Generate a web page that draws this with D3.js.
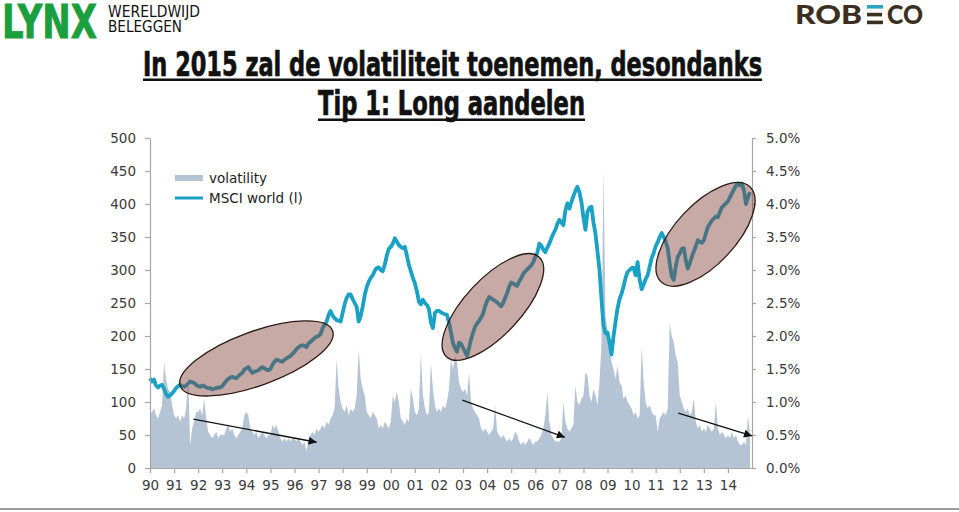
<!DOCTYPE html>
<html><head><meta charset="utf-8">
<script src="https://cdn.jsdelivr.net/npm/d3@7/dist/d3.min.js"></script>
<style>
html,body{margin:0;padding:0;background:#fff;}
svg{display:block;}
</style></head><body>
<svg id="chart" width="959" height="512"></svg>
<script>
// ---------------- DATA ----------------
const years = d3.range(1990, 2015);
const yearLabels = years.map(y => String(y).slice(2));
const leftTicks = [0, 50, 100, 150, 200, 250, 300, 350, 400, 450, 500];
const rightTicks = [0, 0.5, 1, 1.5, 2, 2.5, 3, 3.5, 4, 4.5, 5];

// MSCI World index, monthly Jan 1990 .. Dec 2014 (left axis)
const msciWorld = [
  136,131,134,125,122,125,126,120,112,108,110,113, // 1990
  117,121,124,126,124,123,125,128,131,130,129,126, // 1991
  124,123,125,124,122,121,121,119,120,121,122,122, // 1992
  124,128,132,135,137,138,137,136,139,142,144,149, // 1993
  151,153,148,144,146,147,148,151,153,151,149,148, // 1994
  150,156,161,164,163,162,161,164,166,168,170,173, // 1995
  176,180,183,185,186,185,183,189,191,194,197,199, // 1996
  200,203,212,217,222,232,238,231,227,224,223,222, // 1997
  235,248,258,263,263,256,250,244,222,230,245,262, // 1998
  274,282,288,292,299,303,304,300,298,308,322,332, // 1999
  335,340,348,343,338,335,333,335,322,308,298,288, // 2000
  280,268,252,248,255,250,247,241,220,212,235,238, // 2001
  238,236,234,233,232,220,205,189,182,176,190,188, // 2002
  182,176,170,182,195,205,214,219,223,228,234,245, // 2003
  253,259,257,255,253,251,248,245,250,258,265,275, // 2004
  281,280,277,276,283,288,294,298,301,304,307,312, // 2005
  320,326,340,337,331,327,334,340,348,355,361,370, // 2006
  376,372,368,390,401,393,403,412,420,426,418,403, // 2007
  380,361,388,394,396,372,355,328,300,256,215,204, // 2008
  205,190,172,200,222,242,256,264,275,288,297,300, // 2009
  303,303,292,312,285,271,278,286,292,305,318,326, // 2010
  336,342,350,356,350,343,333,310,290,285,305,320, // 2011
  325,332,333,315,302,310,320,328,336,345,343,341, // 2012
  345,355,365,370,375,378,381,380,388,395,398,401, // 2013
  404,410,416,422,428,431,428,431,420,400,410,418  // 2014
];

// Volatility in %, monthly Jan 1990 .. Dec 2014 (right axis)
const volatility = [
  0.8,0.85,0.9,0.8,0.75,0.85,0.95,1.6,1.35,1.2,1.15,0.95, // 1990
  0.8,0.75,0.8,0.7,0.8,0.75,0.9,1.4,0.35,0.6,0.7,0.85,    // 1991
  0.85,0.9,0.8,1.05,0.75,0.55,0.5,0.45,0.5,0.55,0.45,0.5, // 1992
  0.5,0.5,0.6,0.65,0.55,0.6,0.5,0.45,0.5,0.55,0.6,0.8,    // 1993
  0.85,0.8,0.6,0.55,0.5,0.55,0.45,0.5,0.55,0.5,0.45,0.5,  // 1994
  0.5,0.65,0.6,0.65,0.55,0.45,0.4,0.45,0.4,0.45,0.4,0.45, // 1995
  0.45,0.4,0.45,0.4,0.35,0.4,0.25,0.45,0.5,0.55,0.5,0.6,  // 1996
  0.55,0.6,0.65,0.6,0.7,0.65,0.75,0.8,0.9,1.65,1.2,1.0,   // 1997
  0.9,0.85,0.95,0.8,0.9,0.85,0.9,1.1,1.8,1.35,1.2,1.1,    // 1998
  0.85,0.8,0.75,0.85,0.8,0.75,0.6,0.65,0.6,0.7,0.65,0.6,  // 1999
  0.7,1.1,1.0,1.15,1.0,0.75,0.7,0.65,0.75,0.7,1.2,1.05,   // 2000
  0.85,0.8,0.9,1.75,1.1,0.9,0.8,0.85,1.6,1.2,0.95,0.85,   // 2001
  0.9,0.85,0.95,0.9,1.0,1.2,1.65,1.5,1.7,1.6,1.3,1.2,     // 2002
  1.15,1.2,1.1,1.45,1.0,0.9,0.85,0.8,0.75,0.6,0.55,0.6,   // 2003
  0.55,0.5,0.55,0.6,0.95,0.55,0.5,0.45,0.5,0.45,0.4,0.45, // 2004
  0.4,0.45,0.55,0.5,0.4,0.35,0.4,0.35,0.4,0.45,0.4,0.35,  // 2005
  0.4,0.4,0.45,0.5,0.6,0.8,1.15,0.7,0.5,0.45,0.4,0.4,     // 2006
  0.4,0.45,1.0,0.7,0.6,0.55,0.6,0.65,1.25,1.0,0.95,1.05,  // 2007
  1.1,1.45,1.4,1.1,1.0,1.2,1.1,0.95,1.3,1.9,4.5,2.3,      // 2008
  2.1,1.9,1.6,1.5,1.35,1.55,1.3,1.25,1.05,1.1,1.0,0.95,   // 2009
  0.9,0.8,0.85,0.75,0.8,1.85,1.3,1.0,0.9,0.95,0.85,0.8,   // 2010
  0.8,0.55,0.75,0.8,0.85,0.8,0.9,2.2,2.0,1.9,1.7,1.6,     // 2011
  1.1,1.0,0.9,0.85,0.9,0.8,0.85,1.05,0.7,0.6,0.65,0.55,   // 2012
  0.6,0.55,0.65,0.6,0.55,0.6,1.0,0.6,0.5,0.55,0.5,0.45,   // 2013
  0.5,0.45,0.55,0.45,0.5,0.4,0.35,0.35,0.4,0.35,0.8,0.5   // 2014
];

// Annotations (data units): highlighted bull periods [year, index level]
const highlightCenters = [[1994.42, 166], [2004.24, 244], [2013.07, 354]];
// Volatility trend arrows [fromYear, fromVol%, toYear, toVol%]
const volTrendArrows = [[1991.8, 0.74, 1996.92, 0.39], [2002.97, 1.03, 2007.23, 0.465], [2011.94, 0.83, 2015.0, 0.485]];

const seriesNames = ["volatility", "MSCI world (l)"];
const titleLines = ["In 2015 zal de volatiliteit toenemen, desondanks", "Tip 1: Long aandelen"];

// ---------------- STYLE ----------------
const ellipseShapes = [{rx: 81, ry: 27, rot: -20}, {rx: 68, ry: 28, rot: -47}, {rx: 65, ry: 30, rot: -47}];
const C = {vol: "#b4c4d4", msci: "#1ba1c4", axis: "#a6a6a6", label: "#3a3a3a"};
const axisFont = "'DejaVu Sans', Verdana, sans-serif";
const condFont = "'Liberation Sans Narrow', 'DejaVu Sans Condensed', 'Arial Narrow', sans-serif";

// ---------------- DRAW ----------------
const svg = d3.select("#chart");
const x = d3.scaleLinear().domain([1990, 2015]).range([150, 752]);
const yL = d3.scaleLinear().domain([0, 500]).range([468, 138]);
const yR = d3.scaleLinear().domain([0, 5]).range([468, 138]);
const tOf = i => 1990 + i / 12;

const defs = svg.append("defs");
defs.append("marker").attr("id", "ah").attr("viewBox", "0 0 10 10")
  .attr("refX", 10).attr("refY", 5).attr("markerWidth", 11).attr("markerHeight", 8)
  .attr("markerUnits", "userSpaceOnUse").attr("orient", "auto")
  .append("path").attr("d", "M0,0L10,5L0,10z").attr("fill", "#111");

// volatility area
svg.append("path").datum(volatility)
  .attr("fill", C.vol)
  .attr("d", d3.area().x((d, i) => x(tOf(i))).y0(yR(0)).y1(d => yR(d)));

// MSCI line
svg.append("path").datum(msciWorld)
  .attr("fill", "none").attr("stroke", C.msci).attr("stroke-width", 3.8)
  .attr("stroke-linejoin", "round")
  .attr("d", d3.line().x((d, i) => x(tOf(i))).y(d => yL(d)));

// axes
function styleAxis(g) {
  g.selectAll(".domain").attr("stroke", C.axis).attr("stroke-width", 1.2);
  g.selectAll(".tick line").attr("stroke", C.axis).attr("stroke-width", 1.2);
  g.selectAll(".tick text").attr("fill", C.label).style("font-family", axisFont).style("font-size", "13.5px");
}
svg.append("g").attr("transform", "translate(150,0)")
  .call(d3.axisLeft(yL).tickValues(leftTicks).tickSize(5).tickSizeOuter(0).tickPadding(9))
  .call(styleAxis);
svg.append("g").attr("transform", "translate(752,0)")
  .call(d3.axisRight(yR).tickValues(rightTicks).tickFormat(d => d.toFixed(1) + "%").tickSize(4).tickSizeOuter(0).tickPadding(10))
  .call(styleAxis);
svg.append("g").attr("transform", "translate(0,468)")
  .call(d3.axisBottom(x).tickValues(years).tickFormat((d, i) => yearLabels[i]).tickSize(5).tickSizeOuter(0).tickPadding(7))
  .call(styleAxis);

// highlight ellipses
svg.append("g").selectAll("ellipse").data(highlightCenters).join("ellipse")
  .attr("transform", (d, i) => `translate(${x(d[0])},${yL(d[1])}) rotate(${ellipseShapes[i].rot})`)
  .attr("rx", (d, i) => ellipseShapes[i].rx).attr("ry", (d, i) => ellipseShapes[i].ry)
  .attr("fill", "rgba(130,65,55,0.45)").attr("stroke", "#2a1a12").attr("stroke-width", 1.3);

// arrows
svg.append("g").selectAll("line").data(volTrendArrows).join("line")
  .attr("x1", d => x(d[0])).attr("y1", d => yR(d[1]))
  .attr("x2", d => x(d[2])).attr("y2", d => yR(d[3]))
  .attr("stroke", "#111").attr("stroke-width", 1.3).attr("marker-end", "url(#ah)");

// legend
const lg = svg.append("g").style("font-family", axisFont).style("font-size", "13.5px").attr("fill", "#222");
lg.append("rect").attr("x", 175).attr("y", 175).attr("width", 28).attr("height", 6).attr("fill", C.vol);
lg.append("text").attr("x", 209).attr("y", 183).text(seriesNames[0]);
lg.append("line").attr("x1", 175).attr("x2", 203).attr("y1", 198).attr("y2", 198).attr("stroke", C.msci).attr("stroke-width", 3);
lg.append("text").attr("x", 209).attr("y", 203).text(seriesNames[1]);

// title
const tt = svg.append("g").style("font-family", condFont).style("font-weight", "bold")
  .attr("fill", "#111").attr("stroke", "#111").attr("stroke-width", 0.7);
tt.append("text").attr("x", 143).attr("y", 76).style("font-size", "33px")
  .attr("textLength", 619).attr("lengthAdjust", "spacingAndGlyphs").text(titleLines[0]);
tt.append("rect").attr("x", 143).attr("y", 78.5).attr("width", 619).attr("height", 2.5).attr("stroke", "none");
tt.append("text").attr("x", 318).attr("y", 115).style("font-size", "33px")
  .attr("textLength", 267).attr("lengthAdjust", "spacingAndGlyphs").text(titleLines[1]);
tt.append("rect").attr("x", 318).attr("y", 118.5).attr("width", 267).attr("height", 2.5).attr("stroke", "none");

// logos
const logo = svg.append("g").style("font-family", condFont);
logo.append("text").attr("x", 2).attr("y", 38).style("font-size", "46px").style("font-weight", "bold")
  .attr("fill", "#1b9e3e").attr("stroke", "#1b9e3e").attr("stroke-width", 0.8)
  .attr("textLength", 95).attr("lengthAdjust", "spacingAndGlyphs").text("LYNX");
logo.append("text").attr("x", 108).attr("y", 17).style("font-size", "16px")
  .attr("fill", "#111").attr("textLength", 92).attr("lengthAdjust", "spacingAndGlyphs").text("WERELDWIJD");
logo.append("text").attr("x", 108).attr("y", 32).style("font-size", "16px")
  .attr("fill", "#111").attr("textLength", 74).attr("lengthAdjust", "spacingAndGlyphs").text("BELEGGEN");

const rb = svg.append("g").style("font-family", "Lato, 'Open Sans', sans-serif").style("font-weight", "900").attr("fill", "#3b2f22");
rb.append("text").attr("x", 795).attr("y", 24).style("font-size", "26px")
  .attr("textLength", 67).attr("lengthAdjust", "spacingAndGlyphs").text("ROB");
rb.append("rect").attr("x", 867).attr("y", 5).attr("width", 16).attr("height", 3.6).attr("fill", "#2aa6c0");
rb.append("rect").attr("x", 867).attr("y", 12.8).attr("width", 15).attr("height", 3.6);
rb.append("rect").attr("x", 867).attr("y", 20.6).attr("width", 16).attr("height", 3.6);
rb.append("text").attr("x", 887).attr("y", 24).style("font-size", "26px")
  .attr("textLength", 36).attr("lengthAdjust", "spacingAndGlyphs").text("CO");

// bottom rule
svg.append("line").attr("x1", 0).attr("x2", 959).attr("y1", 509).attr("y2", 509).attr("stroke", "#9a9a9a").attr("stroke-width", 2);
</script></body></html>
